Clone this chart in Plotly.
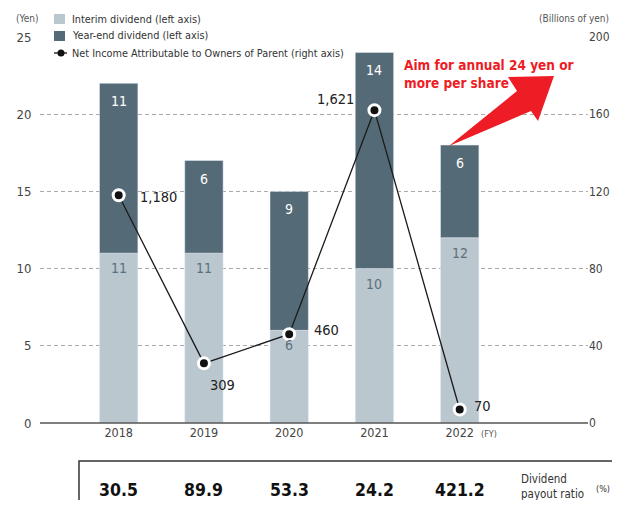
import plotly.graph_objects as go

years = ["2018", "2019", "2020", "2021", "2022"]
interim = [11, 11, 6, 10, 12]
year_end = [11, 6, 9, 14, 6]
net_income = [118.0, 30.9, 46.0, 162.1, 7.0]
net_income_labels = ["1,180", "309", "460", "1,621", "70"]
payout_ratio = ["30.5", "89.9", "53.3", "24.2", "421.2"]

FONT = "DejaVu Sans Condensed, Liberation Sans Narrow, Roboto, sans-serif"
C_INT = "#bac7cf"
C_YE = "#556a77"
RED = "#ee1c25"

# page offset (body margin) and plot-area pixel frame in page coordinates
OFF = 8
PAGE_W, PAGE_H = 620, 508
FIG_W, FIG_H = PAGE_W - 2 * OFF, PAGE_H - 2 * OFF
L, R, T, B = 40, 588, 37, 423
W, H = R - L, B - T


def px(x, y):
    return (x - L) / W, (B - y) / H


fig = go.Figure()
fig.add_bar(x=years, y=interim, marker_color=C_INT, width=0.45, name="Interim dividend (left axis)")
fig.add_bar(x=years, y=year_end, base=interim, marker_color=C_YE, width=0.45, name="Year-end dividend (left axis)")
fig.add_scatter(x=years, y=net_income, yaxis="y2", mode="lines+markers",
                line=dict(color="#1a1a1a", width=1.3),
                marker=dict(size=11, color="#111", line=dict(color="white", width=3)),
                name="Net Income")

ann = []


def note(xp, yp, text, size, color="#333", xanchor="left", bold=False, align="left"):
    a, _ = px(xp, 0)
    _, b = px(0, yp)
    ann.append(dict(x=a, y=b, xref="paper", yref="paper", xanchor=xanchor, yanchor="middle",
                    text=("<b>%s</b>" % text) if bold else text, align=align, showarrow=False,
                    font=dict(family=FONT, size=size, color=color)))


# bar labels
for i in range(len(years)):
    ann.append(dict(x=i, y=interim[i], xref="x", yref="y", text=str(interim[i]),
                    showarrow=False, xanchor="center", yanchor="top", yshift=-5,
                    font=dict(family=FONT, size=14, color="#5b707e")))
    ann.append(dict(x=i, y=interim[i] + year_end[i], xref="x", yref="y", text=str(year_end[i]),
                    showarrow=False, xanchor="center", yanchor="top", yshift=-8,
                    font=dict(family=FONT, size=14, color="white")))

# line labels
offs = [("left", 19, -2), ("left", 4, -22), ("left", 23, 4), ("right", -18, 11), ("left", 12, 3)]
for i in range(len(years)):
    xa, xs, ys = offs[i]
    ann.append(dict(x=i, y=net_income[i], xref="x", yref="y2", text=net_income_labels[i],
                    showarrow=False, xanchor=xa, yanchor="middle", xshift=xs, yshift=ys,
                    font=dict(family=FONT, size=14.5, color="#222")))

# payout ratio row
for i in range(len(years)):
    ann.append(dict(x=i, y=px(0, 490)[1], xref="x", yref="paper", text="<b>%s</b>" % payout_ratio[i],
                    showarrow=False, xanchor="center", yanchor="middle",
                    font=dict(family=FONT, size=17.5, color="#111")))

note(519, 487, "Dividend<br>payout ratio", 11.5)
note(594, 489, "(%)", 9)

# axis units
note(14, 18, "(Yen)", 10, "#555")
note(611, 18, "(Billions of yen)", 10, "#555", xanchor="right")
note(479, 434, "(FY)", 9, "#555")

# custom legend
for txt, yy in [("Interim dividend (left axis)", 19), ("Year-end dividend (left axis)", 36),
                ("Net Income Attributable to Owners of Parent (right axis)", 53)]:
    note(70, yy, txt, 10.8)

# target text
note(402, 74, "Aim for annual 24 yen or<br>more per share", 13.5, RED, bold=True)

shapes = []
# white cover behind legend (hides top gridline)
x0, y0 = px(40, 28)
x1, y1 = px(212, 45)
shapes.append(dict(type="rect", xref="paper", yref="paper", x0=x0, y0=y0, x1=x1, y1=y1,
                   fillcolor="white", line=dict(width=0), layer="above"))
# legend swatches
for col, yy in [(C_INT, 19), (C_YE, 36)]:
    a0, b0 = px(54, yy - 5)
    a1, b1 = px(65, yy + 5)
    shapes.append(dict(type="rect", xref="paper", yref="paper", x0=a0, y0=b1, x1=a1, y1=b0,
                       fillcolor=col, line=dict(width=0), layer="above"))
a0, b0 = px(54, 53)
a1, _ = px(67, 53)
shapes.append(dict(type="line", xref="paper", yref="paper", x0=a0, y0=b0, x1=a1, y1=b0,
                   line=dict(color="#111", width=1.3), layer="above"))
c0, d0 = px(57.5, 49.5)
c1, d1 = px(64.5, 56.5)
shapes.append(dict(type="circle", xref="paper", yref="paper", x0=c0, y0=d1, x1=c1, y1=d0,
                   fillcolor="#111", line=dict(width=0), layer="above"))

# baseline (x axis line)
bx0, by = px(40, 423)
bx1, _ = px(588, 423)
shapes.append(dict(type="line", xref="paper", yref="paper", x0=bx0, y0=by, x1=bx1, y1=by,
                   line=dict(color="#555", width=1.5), layer="above"))

# red arrow
pts = [(449, 146), (517, 91), (508, 77), (554, 76), (538, 121), (531, 111)]
path = "M " + " L ".join("%f,%f" % px(a, b) for a, b in pts) + " Z"
shapes.append(dict(type="path", xref="paper", yref="paper", path=path,
                   fillcolor=RED, line=dict(width=0), layer="above"))

# table box
tx0, ty0 = px(79, 461)
tx1, ty1 = px(640, 520)
shapes.append(dict(type="path", xref="paper", yref="paper",
                   path="M %f,%f L %f,%f L %f,%f" % (tx0, ty1, tx0, ty0, tx1, ty0),
                   line=dict(color="#333", width=1.5)))

fig.update_layout(
    width=FIG_W, height=FIG_H,
    margin=dict(l=L - OFF, r=FIG_W + OFF - R, t=T - OFF, b=FIG_H + OFF - B, pad=0, autoexpand=False),
    paper_bgcolor="white", plot_bgcolor="white",
    barmode="overlay", showlegend=False,
    font=dict(family=FONT, size=13, color="#444"),
    xaxis=dict(type="category", range=[-0.923, 5.505], showline=False,
               ticks="", showgrid=False, automargin=False, tickfont=dict(size=12.5, color="#444")),
    yaxis=dict(range=[0, 25], dtick=5, showgrid=True, gridcolor="#aaaaaa", griddash="4px,3px",
               gridwidth=1, zeroline=False, showline=False, ticks="outside", ticklen=5,
               automargin=False, tickcolor="white", tickfont=dict(size=13, color="#444")),
    yaxis2=dict(range=[0, 200], dtick=40, overlaying="y", side="right", showgrid=False,
                zeroline=False, showline=False, ticks="", ticklen=0,
                automargin=False, tickfont=dict(size=12, color="#444")),
    annotations=ann, shapes=shapes,
)

fig.write_html("out.html")
